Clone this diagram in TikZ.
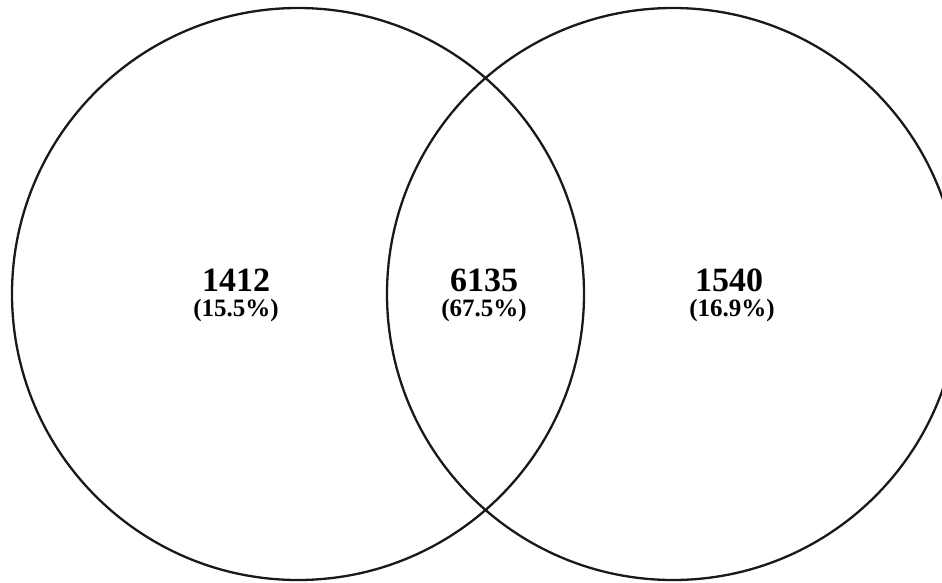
\documentclass[tikz,border=0pt]{standalone}
\usepackage{fontspec}
\setmainfont{Liberation Serif}
\begin{document}
\begin{tikzpicture}[x=1pt,y=-1pt,
  setcircle/.style={draw=black!90,line width=2.3pt},
  numlbl/.style={font=\fontsize{34}{37}\selectfont\bfseries,inner sep=0pt,anchor=center},
  pctlbl/.style={font=\fontsize{25}{28}\selectfont\bfseries,inner sep=0pt,anchor=center}]
\useasboundingbox (0,0) rectangle (942,582);
\begin{scope}
\clip (0,0) rectangle (942,582);
\draw[setcircle] (298,294) circle[radius=286];
\draw[setcircle] (673,294) circle[radius=286];
\end{scope}
\node[numlbl] (a) at (236,280) {1412};
\node[pctlbl] (ap) at (236,310) {(15.5\%)};
\node[numlbl] (b) at (484,280) {6135};
\node[pctlbl] (bp) at (484,310) {(67.5\%)};
\node[numlbl] (c) at (729,280) {1540};
\node[pctlbl] (cp) at (732,310) {(16.9\%)};
\end{tikzpicture}
\end{document}
